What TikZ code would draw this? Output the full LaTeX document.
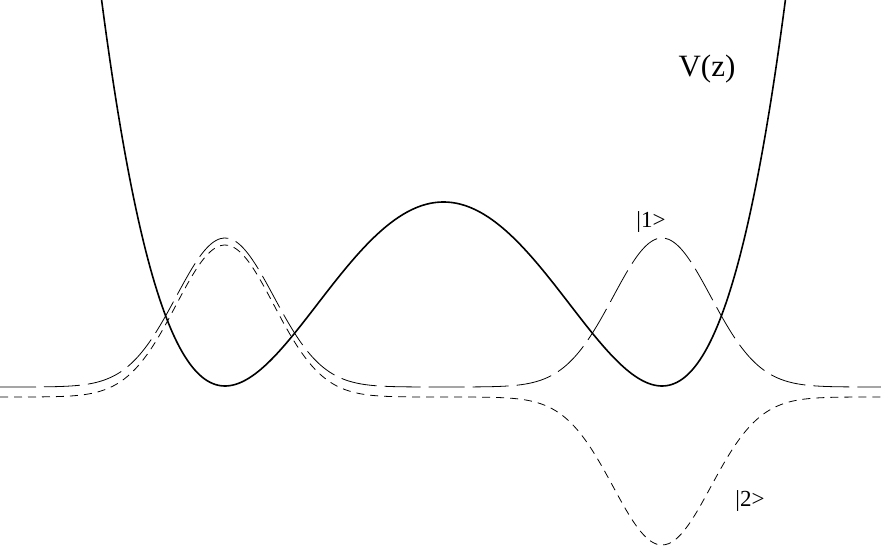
\documentclass[tikz,border=0pt]{standalone}
\usepackage{fontspec}
\setmainfont{Liberation Serif}
\tikzset{
  wall/.style={line width=1.6pt},
  ketone/.style={line width=0.8pt, dash pattern=on 36pt off 8pt},
  kettwo/.style={line width=0.8pt, dash pattern=on 8pt off 6pt},
  lbl/.style={inner sep=0pt, font=\fontsize{23}{25}\selectfont}
}
\begin{document}
\begin{tikzpicture}[x=1pt,y=-1pt,
  declare function={uu(\x)=((\x-443.5)/218.5)*((\x-443.5)/218.5);
    pot(\x)=386-184*(uu(\x)-1)*(uu(\x)-1);
    gs(\x,\c)=exp(-0.5*((\x-\c)/48.8)*((\x-\c)/48.8));}]
    \useasboundingbox (0,0) rectangle (881,548);
    % potential
    \draw[wall] plot[domain=101.5:785.5, samples=241, smooth] (\x,{pot(\x)});
    % |1> and |2>
    \draw[ketone] plot[domain=0:881, samples=221, smooth] (\x,{387-149*(gs(\x,225)+gs(\x,662))});
    \draw[kettwo] plot[domain=0:881, samples=221, smooth] (\x,{397-152*gs(\x,225)+148*gs(\x,662)});
    % labels
    \node[lbl, font=\fontsize{31}{33}\selectfont] (vlabel) at (707,69) {V(z)};
    \node[lbl] (labone) at (651,222) {|1>};
    \node[lbl] (labtwo) at (750,501) {|2>};
\end{tikzpicture}
\end{document}
